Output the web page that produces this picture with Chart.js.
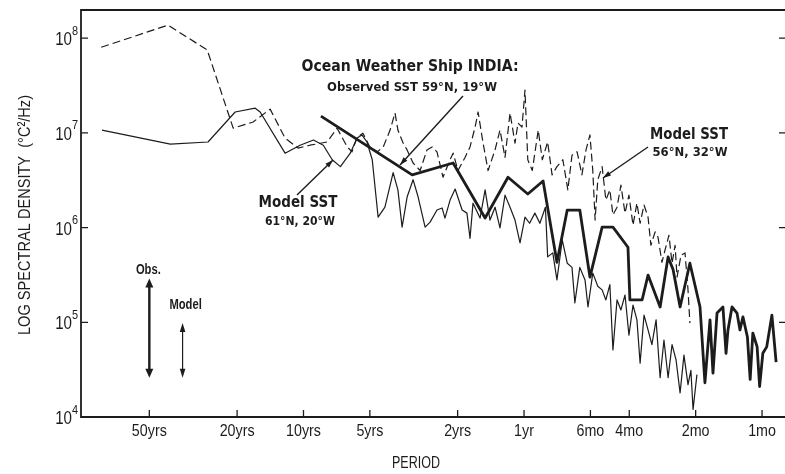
<!DOCTYPE html>
<html>
<head>
<meta charset="utf-8">
<script src="https://cdn.jsdelivr.net/npm/chart.js@4.4.1/dist/chart.umd.min.js"></script>
<style>
  html, body { margin: 0; padding: 0; background: #fff; }
  #wrap { width: 785px; height: 474px; }
</style>
</head>
<body>
<div id="wrap"><canvas id="spectrum" width="785" height="474"></canvas></div>
<script>
// x: frequency in cycles per year, y: spectral density in °C²/Hz
const periodTickFreq = [0.02, 0.05, 0.1, 0.2, 0.5, 1, 2, 3, 6, 12];
const periodTickLabels = ['50yrs', '20yrs', '10yrs', '5yrs', '2yrs', '1yr', '6mo', '4mo', '2mo', '1mo'];
const densityTicks = [1e4, 1e5, 1e6, 1e7, 1e8];

// Model SST 56°N, 32°W (dashed)
const model56Freq = [0.0121, 0.0243, 0.0366, 0.048, 0.0591, 0.0706, 0.0825, 0.0945, 0.107, 0.128,
  0.142, 0.158, 0.166, 0.175, 0.186, 0.200, 0.216, 0.230, 0.247, 0.260,
  0.268, 0.283, 0.295, 0.314, 0.338, 0.363, 0.383, 0.403, 0.429, 0.462,
  0.477, 0.502, 0.540, 0.569, 0.600, 0.619, 0.652, 0.687, 0.739, 0.778,
  0.820, 0.864, 0.910, 0.939, 0.979, 1.01, 1.04, 1.09, 1.16, 1.21,
  1.28, 1.34, 1.41, 1.50, 1.58, 1.65, 1.74, 1.83, 1.91, 1.99,
  2.05, 2.10, 2.16, 2.26, 2.35, 2.45, 2.53, 2.64, 2.75, 2.87,
  2.99, 3.12, 3.25, 3.36, 3.50, 3.65, 3.76, 3.93, 4.05, 4.22,
  4.36, 4.54, 4.69, 4.84, 4.94, 5.15, 5.37, 5.54, 5.65];
const model56Density = [8.0e7, 1.37e8, 7.5e7, 1.12e7, 1.30e7, 1.78e7, 8.8e6, 6.9e6, 7.4e6, 8.0e6,
  1.12e7, 7.1e6, 6.3e6, 9.0e6, 9.9e6, 7.1e6, 6.3e6, 7.1e6, 1.07e7, 1.62e7,
  1.07e7, 7.8e6, 6.6e6, 4.8e6, 4.0e6, 6.6e6, 7.1e6, 6.3e6, 3.4e6, 5.2e6,
  6.1e6, 4.0e6, 5.5e6, 7.1e6, 1.15e7, 1.66e7, 7.8e6, 4.0e6, 6.6e6, 1.07e7,
  5.5e6, 1.62e7, 7.8e6, 1.27e7, 1.15e7, 2.83e7, 5.2e6, 4.0e6, 1.07e7, 5.2e6,
  8.0e6, 3.6e6, 4.4e6, 5.2e6, 2.5e6, 5.8e6, 6.3e6, 3.6e6, 6.6e6, 9.5e6,
  4.0e6, 1.2e6, 3.2e6, 4.4e6, 1.95e6, 2.5e6, 1.36e6, 1.64e6, 2.8e6, 1.42e6,
  2.2e6, 1.06e6, 1.81e6, 1.11e6, 1.73e6, 1.29e6, 6.5e5, 9.0e5, 7.9e5, 4.3e5,
  5.8e5, 8.3e5, 4.2e5, 6.5e5, 3.0e5, 5.1e5, 5.4e5, 2.2e5, 9.8e4];

// Model SST 61°N, 20°W (thin solid)
const model61Freq = [0.0122, 0.0249, 0.0369, 0.0490, 0.0604, 0.0636, 0.0825, 0.0965, 0.111, 0.123,
  0.135, 0.147, 0.163, 0.175, 0.184, 0.194, 0.205, 0.218, 0.234, 0.255,
  0.268, 0.280, 0.295, 0.314, 0.331, 0.356, 0.375, 0.403, 0.425, 0.438,
  0.462, 0.487, 0.524, 0.551, 0.569, 0.587, 0.632, 0.666, 0.701, 0.739,
  0.778, 0.820, 0.864, 0.910, 0.959, 1.01, 1.06, 1.12, 1.18, 1.25,
  1.28, 1.35, 1.41, 1.49, 1.57, 1.65, 1.70, 1.79, 1.89, 1.95,
  2.05, 2.16, 2.26, 2.35, 2.45, 2.53, 2.64, 2.75, 2.87, 2.99,
  3.12, 3.25, 3.36, 3.50, 3.65, 3.80, 3.97, 4.14, 4.31, 4.50,
  4.69, 4.89, 5.10, 5.31, 5.54, 5.71, 5.84, 6.08];
const model61Density = [1.07e7, 7.6e6, 8.0e6, 1.66e7, 1.82e7, 1.66e7, 6.1e6, 7.4e6, 8.4e6, 7.4e6,
  5.2e6, 4.4e6, 6.1e6, 8.8e6, 9.5e6, 8.0e6, 5.2e6, 1.29e6, 1.64e6, 3.8e6,
  2.5e6, 1.01e6, 2.1e6, 3.2e6, 2.1e6, 1.01e6, 1.14e6, 1.53e6, 1.61e6, 1.26e6,
  1.95e6, 2.55e6, 1.53e6, 1.42e6, 7.7e5, 1.81e6, 1.26e6, 2.5e6, 1.2e6, 1.64e6,
  9.9e5, 2.2e6, 1.64e6, 1.2e6, 6.9e5, 1.29e6, 1.11e6, 1.42e6, 1.11e6, 1.64e6,
  4.9e5, 5.4e5, 2.8e5, 7.4e5, 4.2e5, 3.8e5, 1.6e5, 3.8e5, 2.8e5, 1.45e5,
  3.3e5, 2.4e5, 2.2e5, 1.72e5, 2.5e5, 5.1e4, 1.72e5, 1.35e5, 1.94e5, 7.3e4,
  1.52e5, 1.06e5, 3.7e4, 1.19e5, 8.3e4, 5.8e4, 1.06e5, 2.6e4, 6.5e4, 2.6e4,
  5.8e4, 4.0e4, 1.8e4, 4.5e4, 2.2e4, 3.1e4, 1.2e4, 2.8e4];

// Ocean Weather Ship INDIA, observed SST 59°N, 19°W (thick)
const obsFreq = [0.120, 0.311, 0.477, 0.666, 0.846, 1.04, 1.22, 1.41, 1.57, 1.79,
  1.99, 2.26, 2.53, 2.96, 3.02, 3.43, 3.65, 4.14, 4.50, 4.74,
  5.10, 5.65, 6.28, 6.61, 6.97, 7.19, 7.50, 7.98, 8.24, 8.41,
  8.77, 9.24, 9.53, 9.83, 10.3, 10.6, 10.9, 11.4, 11.7, 12.1,
  12.6, 13.3, 13.9];
const obsDensity = [1.50e7, 3.6e6, 4.8e6, 1.26e6, 3.4e6, 2.26e6, 3.1e6, 4.3e5, 1.53e6, 1.53e6,
  3.0e5, 1.01e6, 1.01e6, 6.2e5, 1.72e5, 1.72e5, 3.15e5, 1.45e5, 4.9e5, 3.6e5,
  1.45e5, 4.2e5, 1.45e5, 2.3e4, 1.06e5, 2.9e4, 1.25e5, 1.45e5, 4.7e4, 8.3e4,
  1.45e5, 1.25e5, 8.3e4, 1.14e5, 7.0e4, 2.5e4, 7.7e4, 5.5e4, 2.1e4, 4.7e4,
  5.5e4, 1.19e5, 3.8e4];

// confidence ranges drawn as arrows in the lower left
const errorBarFreq = [0.02, 0.0283];
const obsErrorBar = [2.6e4, 2.9e5];
const modelErrorBar = [2.6e4, 9.8e4];

const ink = '#1c1c1c';
const SANS = '"Liberation Sans", Arial, sans-serif';
const GEO = '"DejaVu Sans", Verdana, sans-serif';

function pairs(fs, ds) {
  return fs.map((f, i) => ({ x: f, y: ds[i] }));
}

function txt(ctx, s, x, y, o) {
  ctx.save();
  ctx.font = (o.weight || 'normal') + ' ' + o.size + 'px ' + (o.family || SANS);
  ctx.fillStyle = ink;
  ctx.textBaseline = 'middle';
  ctx.textAlign = o.align || 'center';
  ctx.translate(x, y);
  if (o.rotate) ctx.rotate(o.rotate);
  let sx = o.sx || 1;
  if (o.width) sx = o.width / ctx.measureText(s).width;
  ctx.scale(sx, 1);
  ctx.fillText(s, 0, 0);
  ctx.restore();
}

function arrowHead(ctx, x, y, ang, len, half) {
  const c = Math.cos(ang), s = Math.sin(ang);
  ctx.beginPath();
  ctx.moveTo(x, y);
  ctx.lineTo(x - len * c + half * s, y - len * s - half * c);
  ctx.lineTo(x - len * c - half * s, y - len * s + half * c);
  ctx.closePath();
  ctx.fill();
}

function leader(ctx, x1, y1, x2, y2) {
  ctx.beginPath();
  ctx.moveTo(x1, y1);
  ctx.lineTo(x2, y2);
  ctx.stroke();
  arrowHead(ctx, x2, y2, Math.atan2(y2 - y1, x2 - x1), 8, 2.6);
}

function errorArrow(ctx, x, yTop, yBot, lw) {
  ctx.lineWidth = lw;
  ctx.beginPath();
  ctx.moveTo(x, yTop + 6);
  ctx.lineTo(x, yBot - 6);
  ctx.stroke();
  arrowHead(ctx, x, yTop, -Math.PI / 2, 9, lw + 1.6);
  arrowHead(ctx, x, yBot, Math.PI / 2, 9, lw + 1.6);
}

const decor = {
  id: 'decor',
  afterDatasetsDraw(chart) {
    const ctx = chart.ctx;
    const a = chart.chartArea;
    const xs = chart.scales.x, ys = chart.scales.y;
    ctx.save();
    ctx.strokeStyle = ink;
    ctx.fillStyle = ink;

    // frame: top, left and bottom
    ctx.lineWidth = 1.8;
    ctx.beginPath();
    ctx.moveTo(a.right, a.top);
    ctx.lineTo(a.left, a.top);
    ctx.lineTo(a.left, a.bottom);
    ctx.lineTo(a.right, a.bottom);
    ctx.stroke();

    // inward ticks
    ctx.lineWidth = 1.3;
    densityTicks.forEach(v => {
      const y = ys.getPixelForValue(v);
      ctx.beginPath();
      ctx.moveTo(a.left, y); ctx.lineTo(a.left + 7, y);
      ctx.moveTo(a.right - 6, y); ctx.lineTo(a.right, y);
      ctx.stroke();
      const e = Math.round(Math.log10(v));
      txt(ctx, '10', 72, y + 2, { size: 18, align: 'right', sx: 0.84 });
      txt(ctx, String(e), 72, y - 7, { size: 13, align: 'left', sx: 0.84 });
    });
    periodTickFreq.forEach((f, i) => {
      const x = xs.getPixelForValue(f);
      ctx.beginPath();
      ctx.moveTo(x, a.bottom); ctx.lineTo(x, a.bottom - 7);
      ctx.stroke();
      txt(ctx, periodTickLabels[i], x, 431, { size: 17, sx: 0.84 });
    });

    // axis titles
    txt(ctx, 'LOG SPECTRAL DENSITY  (°C²/Hz)', 25, 215, { size: 17, rotate: -Math.PI / 2, width: 240 });
    txt(ctx, 'PERIOD', 416, 463, { size: 17, width: 48 });

    // series labels
    txt(ctx, 'Ocean Weather Ship INDIA:', 410, 67, { size: 16, weight: 'bold', family: GEO, width: 217 });
    txt(ctx, 'Observed SST 59°N, 19°W', 412, 88, { size: 12, weight: 'bold', family: GEO, width: 170 });
    txt(ctx, 'Model SST', 298, 203, { size: 16, weight: 'bold', family: GEO, width: 79 });
    txt(ctx, '61°N, 20°W', 300, 222, { size: 12, weight: 'bold', family: GEO, width: 70 });
    txt(ctx, 'Model SST', 689, 135, { size: 16, weight: 'bold', family: GEO, width: 78 });
    txt(ctx, '56°N, 32°W', 690, 153, { size: 12, weight: 'bold', family: GEO, width: 75 });

    ctx.lineWidth = 1.4;
    leader(ctx, 463, 96, 400, 165);
    leader(ctx, 297, 195, 333, 160);
    leader(ctx, 648, 147, 603, 178);

    // confidence arrows
    const xo = xs.getPixelForValue(errorBarFreq[0]);
    const xm = xs.getPixelForValue(errorBarFreq[1]);
    errorArrow(ctx, xo, ys.getPixelForValue(obsErrorBar[1]), ys.getPixelForValue(obsErrorBar[0]), 2.4);
    errorArrow(ctx, xm, ys.getPixelForValue(modelErrorBar[1]), ys.getPixelForValue(modelErrorBar[0]), 1.2);
    txt(ctx, 'Obs.', xo - 1, 270, { size: 14, weight: 'bold', sx: 0.8 });
    txt(ctx, 'Model', xm + 3, 305, { size: 14, weight: 'bold', sx: 0.8 });

    ctx.restore();
  }
};

const lineBase = { showLine: true, pointRadius: 0, borderColor: ink, borderJoinStyle: 'round', tension: 0 };

new Chart(document.getElementById('spectrum'), {
  type: 'scatter',
  data: {
    datasets: [
      Object.assign({ label: 'Observed SST 59°N, 19°W', data: pairs(obsFreq, obsDensity), borderWidth: 2.8 }, lineBase),
      Object.assign({ label: 'Model SST 61°N, 20°W', data: pairs(model61Freq, model61Density), borderWidth: 1.2 }, lineBase),
      Object.assign({ label: 'Model SST 56°N, 32°W', data: pairs(model56Freq, model56Density), borderWidth: 1.2, borderDash: [8, 4] }, lineBase)
    ]
  },
  options: {
    responsive: false,
    animation: false,
    devicePixelRatio: 1,
    layout: { padding: { top: 10, left: 0, right: 0, bottom: 0 } },
    plugins: { legend: { display: false }, tooltip: { enabled: false } },
    scales: {
      x: {
        type: 'logarithmic', min: 0.0098, max: 15.25,
        grid: { display: false, drawTicks: false }, border: { display: false },
        ticks: { display: false },
        afterFit: s => { s.height = 57; }
      },
      y: {
        type: 'logarithmic', min: 1e4, max: 1.98e8,
        grid: { display: false, drawTicks: false }, border: { display: false },
        ticks: { display: false },
        afterFit: s => { s.width = 81; }
      }
    }
  },
  plugins: [decor]
});
</script>
</body>
</html>
